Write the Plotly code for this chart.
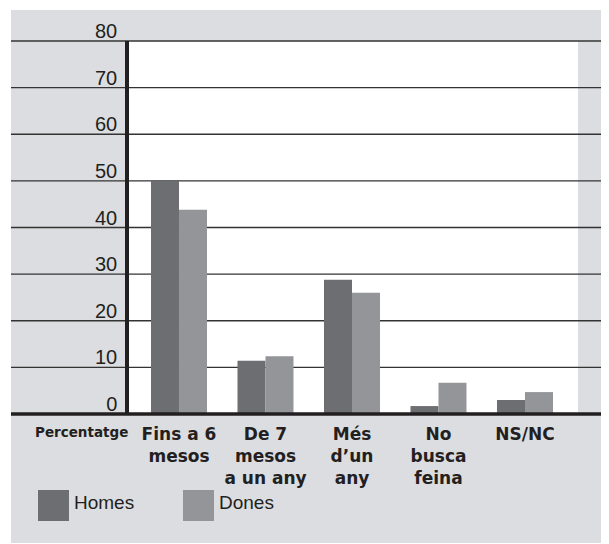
import plotly.graph_objects as go

# ---------------- data ----------------
categories = ["Fins a 6<br>mesos", "De 7<br>mesos<br>a un any", "Més<br>d’un<br>any",
              "No<br>busca<br>feina", "NS/NC"]
homes = [50.0, 11.4, 28.8, 1.7, 3.0]
dones = [43.8, 12.4, 26.0, 6.7, 4.7]
series_names = ["Homes", "Dones"]
series_colors = ["#6d6e71", "#939598"]
y_ticks = [0, 10, 20, 30, 40, 50, 60, 70, 80]
axis_label = "Percentatge"

# ---------------- layout helpers ----------------
OFF = 8                      # default page margin around the figure
SW, SH = 609, 544            # screen size
W, H = SW - OFF, SH - OFF    # figure size
PLOT_L, PLOT_R, PLOT_T, PLOT_B = 129, 578, 41, 414   # plot area in screen px
L = PLOT_L - OFF
T = PLOT_T - OFF
R = (SW) - PLOT_R
B = (SH) - PLOT_B
PW = PLOT_R - PLOT_L
PH = PLOT_B - PLOT_T
BG = "#dcdde0"
INK = "#231f20"
Y0, Y1 = 0, 80


def px_x(px):
    return (px - PLOT_L) / PW


def px_y(py):
    return (PLOT_B - py) / PH


def val_y(v):
    return (v - Y0) / (Y1 - Y0)


fig = go.Figure()
for name, vals, col in zip(series_names, [homes, dones], series_colors):
    fig.add_trace(go.Bar(x=categories, y=vals, name=name, marker_color=col,
                         marker_line_width=0, showlegend=False))

shapes = []
# white plot area and white margins of the page
shapes.append(dict(type="rect", xref="paper", yref="paper", x0=0, x1=1, y0=0, y1=1,
                   fillcolor="white", line_width=0, layer="below"))
shapes.append(dict(type="rect", xref="paper", yref="paper", x0=px_x(OFF), x1=px_x(11),
                   y0=px_y(SH), y1=px_y(OFF), fillcolor="white", line_width=0, layer="below"))
shapes.append(dict(type="rect", xref="paper", yref="paper", x0=px_x(OFF), x1=px_x(SW),
                   y0=px_y(10), y1=px_y(OFF), fillcolor="white", line_width=0, layer="below"))
shapes.append(dict(type="rect", xref="paper", yref="paper", x0=px_x(OFF), x1=px_x(SW),
                   y0=px_y(SH), y1=px_y(543), fillcolor="white", line_width=0, layer="below"))
# gridlines extending across full width
for v in y_ticks[1:]:
    shapes.append(dict(type="line", xref="paper", yref="paper", x0=px_x(11), x1=px_x(SW),
                       y0=val_y(v), y1=val_y(v), line=dict(color="#333333", width=1.4),
                       layer="below"))
# zero line
shapes.append(dict(type="line", xref="paper", yref="paper", x0=px_x(11), x1=px_x(SW),
                   y0=val_y(0), y1=val_y(0), line=dict(color=INK, width=3.3), layer="above"))
# legend squares
legend_x = [38, 183]
for lx, col in zip(legend_x, series_colors):
    shapes.append(dict(type="rect", xref="paper", yref="paper", x0=px_x(lx), x1=px_x(lx + 31),
                       y0=px_y(521), y1=px_y(490), fillcolor=col, line_width=0, layer="above"))

annotations = []
for lx, name in zip(legend_x, series_names):
    annotations.append(dict(xref="paper", yref="paper", x=px_x(lx + 34), y=px_y(502.5),
                            text=name, showarrow=False, xanchor="left", yanchor="middle",
                            font=dict(family="Liberation Sans, Arial, sans-serif", size=19,
                                      color=INK)))
annotations.append(dict(xref="paper", yref="paper", x=px_x(81.5), y=px_y(432.5),
                        text=f"<b>{axis_label}</b>", showarrow=False, xanchor="center",
                        yanchor="middle",
                        font=dict(family="DejaVu Sans, sans-serif", size=13.5, color=INK)))

fig.update_layout(
    width=W, height=H,
    margin=dict(l=L, r=R, t=T, b=B, pad=0),
    paper_bgcolor=BG,
    plot_bgcolor="rgba(0,0,0,0)",
    barmode="group", bargap=0.3526, bargroupgap=0,
    shapes=shapes, annotations=annotations,
    xaxis=dict(type="category", range=[-0.578, 4.613], showgrid=False, showline=False,
               zeroline=False, ticks="", ticklabelstandoff=8,
               tickfont=dict(family="DejaVu Sans, sans-serif", size=17, color=INK,
                             weight="bold")),
    yaxis=dict(range=[Y0, Y1], tickvals=y_ticks, ticktext=[str(t) for t in y_ticks],
               showgrid=False, zeroline=False, showline=True, linewidth=3.5, linecolor=INK,
               ticks="", ticklabelshift=-10, ticklabelstandoff=4,
               tickfont=dict(family="Liberation Sans, Arial, sans-serif", size=20, color=INK)),
)

fig.write_html("out.html")
